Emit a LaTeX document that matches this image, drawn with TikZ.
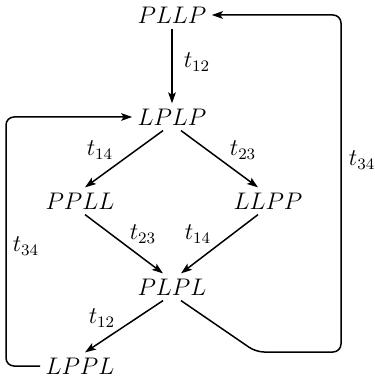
\documentclass[tikz,border=0pt]{standalone}
\usetikzlibrary{arrows.meta}
\begin{document}
\begin{tikzpicture}[x=0.5pt,y=-0.5pt,
  st/.style={inner sep=2.5pt,font=\fontsize{12}{14}\selectfont},
  lb/.style={inner sep=0pt,font=\fontsize{12}{14}\selectfont},
  ar/.style={line width=0.75pt,-{Stealth[length=5.5pt,width=3.8pt,inset=1.2pt]}},
  ln/.style={line width=0.75pt}]
\useasboundingbox (0,0) rectangle (374,378);
\node[st] (pllp) at (172,15) {$PLLP$};
\node[st] (lplp) at (172,117) {$LPLP$};
\node[st] (ppll) at (80,201) {$PPLL$};
\node[st] (llpp) at (268,201) {$LLPP$};
\node[st] (plpl) at (172,287) {$PLPL$};
\node[st] (lppl) at (80,366) {$LPPL$};
\coordinate (r1) at (256,352);
\coordinate (r2) at (341,352);
\coordinate (r3) at (341,15);
\coordinate (l1) at (6,366);
\coordinate (l2) at (6,117);
% edges
\draw[ar] (pllp.south) -- (lplp.north);
\draw[ar] ([xshift=-4.5pt]lplp.south) -- ([xshift=2.5pt]ppll.north);
\draw[ar] ([xshift=4.5pt]lplp.south) -- ([xshift=-5pt]llpp.north);
\draw[ar] ([xshift=2.5pt]ppll.south) -- ([xshift=-4.5pt]plpl.north);
\draw[ar] ([xshift=-5pt]llpp.south) -- ([xshift=4.5pt]plpl.north);
\draw[ar] ([xshift=-4.5pt]plpl.south) -- ([xshift=2.5pt]lppl.north);
\draw[ar,rounded corners=4pt] ([xshift=4.5pt]plpl.south) -- (r1) -- (r2) -- (r3) -- (pllp.east);
\draw[ar,rounded corners=4pt] (lppl.west) -- (l1) -- (l2) -- (lplp.west);
% labels
\node[lb] (a) at (197,62) {$t_{12}$};
\node[lb] (b) at (100,150) {$t_{14}$};
\node[lb] (c) at (243,150) {$t_{23}$};
\node[lb] (d) at (362,160) {$t_{34}$};
\node[lb] (e) at (143,234) {$t_{23}$};
\node[lb] (f) at (198,234) {$t_{14}$};
\node[lb] (g) at (26,246) {$t_{34}$};
\node[lb] (h) at (102,318) {$t_{12}$};
\end{tikzpicture}
\end{document}
